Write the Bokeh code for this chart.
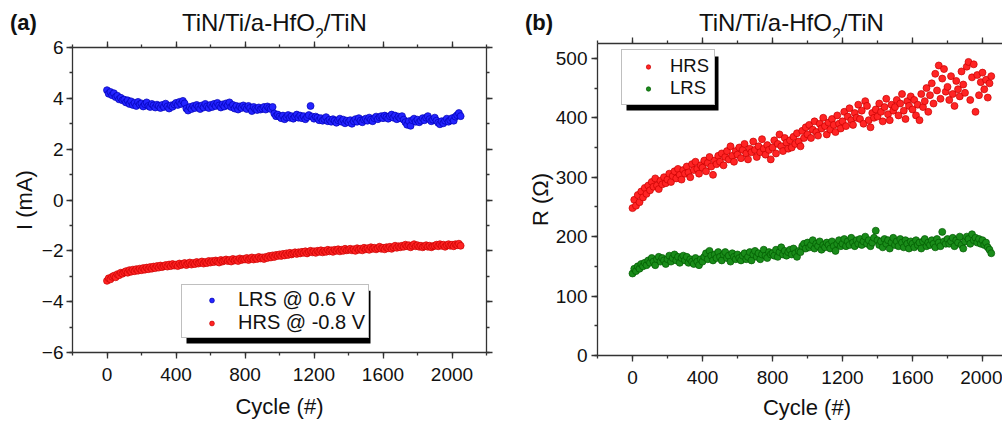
from bokeh.plotting import figure
from bokeh.models import (Legend, LegendItem, LinearAxis, BoxAnnotation, Div,
                          SingleIntervalTicker, Range1d, CustomJSTickFormatter)
from bokeh.layouts import row, column
from bokeh.embed import file_html
from bokeh.resources import INLINE

# ---------------- data ----------------
cycles = list(range(0, 2051, 10))

# panel (a): current in mA
lrs_current = [
    4.32, 4.18, 4.25, 4.12, 4.20, 4.05, 4.10, 3.96, 4.02, 3.92,
    3.95, 3.84, 3.92, 3.78, 3.88, 3.74, 3.82, 3.70, 3.86, 3.76,
    3.80, 3.68, 3.77, 3.84, 3.70, 3.66, 3.78, 3.72, 3.64, 3.75,
    3.70, 3.62, 3.74, 3.66, 3.79, 3.68, 3.60, 3.72, 3.67, 3.76,
    3.82, 3.74, 3.86, 3.78, 3.90, 3.80, 3.60, 3.52, 3.66, 3.58,
    3.70, 3.62, 3.74, 3.66, 3.58, 3.72, 3.64, 3.78, 3.68, 3.62,
    3.74, 3.66, 3.78, 3.70, 3.82, 3.72, 3.64, 3.76, 3.68, 3.80,
    3.72, 3.84, 3.66, 3.74, 3.60, 3.70, 3.56, 3.68, 3.62, 3.72,
    3.64, 3.58, 3.70, 3.62, 3.50, 3.66, 3.58, 3.54, 3.64, 3.56,
    3.60, 3.66, 3.56, 3.68, 3.62, 3.58, 3.66, 3.40, 3.30, 3.36,
    3.28, 3.22, 3.32, 3.18, 3.26, 3.34, 3.24, 3.30, 3.20, 3.28,
    3.36, 3.24, 3.32, 3.22, 3.30, 3.18, 3.26, 3.34, 3.70, 3.28,
    3.20, 3.28, 3.24, 3.14, 3.22, 3.12, 3.18, 3.26, 3.10, 3.16,
    3.08, 3.18, 3.12, 3.04, 3.14, 3.20, 3.08, 3.16, 3.02, 3.12,
    3.06, 3.14, 3.00, 3.10, 3.18, 3.08, 3.22, 3.12, 3.06, 3.16,
    3.20, 3.12, 3.24, 3.16, 3.10, 3.22, 3.28, 3.18, 3.26, 3.30,
    3.22, 3.32, 3.26, 3.20, 3.30, 3.36, 3.24, 3.32, 3.18, 3.28,
    3.22, 3.30, 3.16, 3.06, 2.96, 3.10, 2.92, 3.14, 3.20, 3.08,
    3.16, 3.06, 3.12, 3.22, 3.14, 3.24, 3.30, 3.18, 3.10, 3.16,
    3.24, 3.12, 3.04, 2.98, 3.10, 3.02, 3.12, 3.20, 3.08, 3.14,
    3.22, 3.12, 3.28, 3.34, 3.42, 3.30,
]
hrs_current = [
    -3.18, -3.08, -3.12, -3.02, -2.98, -3.04, -2.92, -2.96, -2.86, -2.90,
    -2.84, -2.80, -2.86, -2.76, -2.82, -2.74, -2.80, -2.72, -2.78, -2.70,
    -2.76, -2.68, -2.74, -2.66, -2.72, -2.64, -2.70, -2.62, -2.68, -2.60,
    -2.66, -2.58, -2.64, -2.60, -2.56, -2.62, -2.54, -2.60, -2.52, -2.58,
    -2.54, -2.60, -2.50, -2.56, -2.52, -2.48, -2.56, -2.50, -2.46, -2.54,
    -2.48, -2.52, -2.44, -2.50, -2.46, -2.42, -2.50, -2.44, -2.48, -2.40,
    -2.46, -2.40, -2.44, -2.38, -2.42, -2.46, -2.36, -2.42, -2.38, -2.34,
    -2.40, -2.36, -2.42, -2.32, -2.38, -2.34, -2.40, -2.30, -2.36, -2.32,
    -2.34, -2.28, -2.36, -2.30, -2.26, -2.34, -2.28, -2.32, -2.24, -2.30,
    -2.26, -2.32, -2.24, -2.28, -2.20, -2.26, -2.18, -2.24, -2.16, -2.20,
    -2.14, -2.20, -2.12, -2.18, -2.10, -2.16, -2.08, -2.14, -2.10, -2.06,
    -2.12, -2.06, -2.10, -2.04, -2.08, -2.02, -2.10, -2.04, -2.00, -2.06,
    -2.02, -2.08, -2.00, -2.04, -1.98, -2.06, -2.00, -2.04, -1.96, -2.02,
    -1.98, -2.04, -1.96, -2.00, -1.94, -2.02, -1.96, -2.00, -1.92, -1.98,
    -1.96, -1.92, -1.98, -1.94, -2.00, -1.90, -1.96, -1.92, -1.98, -1.88,
    -1.94, -1.90, -1.96, -1.86, -1.92, -1.88, -1.94, -1.90, -1.84, -1.92,
    -1.88, -1.94, -1.86, -1.90, -1.84, -1.92, -1.86, -1.80, -1.88, -1.82,
    -1.86, -1.80, -1.84, -1.76, -1.82, -1.78, -1.86, -1.80, -1.74, -1.82,
    -1.78, -1.84, -1.80, -1.86, -1.82, -1.78, -1.84, -1.80, -1.86, -1.82,
    -1.80, -1.76, -1.82, -1.74, -1.80, -1.76, -1.84, -1.78, -1.74, -1.80,
    -1.76, -1.82, -1.74, -1.78, -1.72, -1.80,
]

# panel (b): resistance in ohm
hrs_resistance = [
    248, 262, 252, 270, 258, 276, 266, 282, 272, 286,
    278, 292, 284, 298, 286, 280, 294, 288, 300, 290,
    296, 306, 292, 302, 310, 298, 314, 304, 296, 312,
    306, 318, 308, 300, 322, 312, 326, 314, 306, 320,
    316, 328, 310, 324, 334, 318, 304, 328, 322, 336,
    326, 340, 320, 334, 344, 330, 352, 336, 326, 344,
    338, 350, 332, 346, 356, 340, 330, 348, 342, 360,
    346, 334, 352, 342, 364, 348, 338, 354, 346, 330,
    350, 362, 340, 356, 372, 352, 344, 366, 358, 348,
    362, 350, 368, 356, 374, 360, 352, 378, 366, 384,
    372, 388, 366, 380, 394, 376, 370, 390, 382, 400,
    386, 372, 392, 380, 398, 388, 376, 404, 390, 382,
    394, 410, 386, 402, 416, 396, 388, 408, 400, 422,
    398, 412, 390, 428, 420, 396, 384, 408, 400, 414,
    402, 424, 410, 394, 418, 432, 406, 396, 422, 412,
    418, 430, 404, 424, 440, 412, 398, 428, 420, 436,
    414, 430, 404, 422, 396, 440, 418, 428, 450, 410,
    438, 458, 424, 474, 446, 488, 432, 466, 482, 444,
    452, 430, 470, 440, 420, 462, 448, 436, 478, 456,
    442, 486, 494, 430, 468, 490, 410, 472, 438, 460,
    476, 448, 464, 434, 458, 470,
]
lrs_resistance = [
    138, 146, 142, 150, 146, 154, 150, 156, 152, 160,
    156, 164, 158, 152, 162, 166, 158, 164, 160, 154,
    162, 168, 158, 164, 170, 160, 166, 156, 164, 168,
    160, 166, 156, 162, 158, 154, 164, 158, 152, 162,
    158, 166, 172, 162, 176, 168, 160, 170, 164, 174,
    166, 160, 170, 174, 164, 168, 158, 172, 166, 162,
    170, 164, 160, 168, 172, 162, 166, 174, 160, 170,
    176, 166, 172, 162, 170, 178, 168, 164, 174, 170,
    172, 168, 178, 166, 174, 182, 170, 176, 168, 174,
    178, 170, 180, 172, 166, 176, 174, 184, 188, 180,
    190, 182, 186, 194, 180, 188, 184, 192, 178, 186,
    182, 190, 186, 180, 192, 184, 176, 188, 194, 184,
    188, 196, 184, 192, 186, 198, 190, 184, 194, 188,
    196, 186, 192, 200, 188, 194, 184, 190, 198, 210,
    194, 186, 192, 182, 196, 188, 194, 180, 190, 198,
    186, 192, 184, 196, 190, 182, 194, 188, 180, 192,
    188, 182, 194, 186, 190, 180, 192, 196, 184, 190,
    186, 194, 188, 182, 196, 190, 184, 208, 192, 188,
    196, 188, 192, 198, 184, 194, 190, 200, 186, 180,
    192, 200, 196, 188, 204, 194, 198, 190, 196, 188,
    194, 186, 190, 182, 178, 172,
]

legend_a = ["LRS @ 0.6 V", "HRS @ -0.8 V"]
legend_b = ["HRS", "LRS"]
panel_tags = ["(a)", "(b)"]
title_main = "TiN/Ti/a-HfO"
title_sub = "2"
title_tail = "/TiN"
x_title = "Cycle (#)"

# ---------------- styling ----------------
FONT = "Liberation Sans"
AXC = "#333333"
TXT = "#111111"
BLUE, BLUE_E = "#2424ff", "#0000b4"
RED, RED_E = "#ff2424", "#c80000"
GREEN, GREEN_E = "#1a8c1a", "#005a00"
MS = 7
TOP_H = 37           # height of the title strip
PAGE_H = 421


def style_axis(ax, labels=True):
    ax.axis_line_color = AXC
    ax.axis_line_width = 1.3
    ax.major_tick_line_color = AXC
    ax.minor_tick_line_color = AXC
    ax.major_tick_line_width = 1.3
    ax.minor_tick_line_width = 1.3
    ax.major_tick_in = 0
    ax.major_tick_out = 6
    ax.minor_tick_in = 0
    ax.minor_tick_out = 3
    ax.major_label_text_font = FONT
    ax.major_label_text_font_size = "19px"
    ax.major_label_text_color = TXT
    ax.major_label_standoff = 5
    ax.axis_label_text_font = FONT
    ax.axis_label_text_font_size = "22px"
    ax.axis_label_text_font_style = "normal"
    ax.axis_label_text_color = TXT
    ax.axis_label_standoff = 8
    if not labels:
        ax.formatter = CustomJSTickFormatter(code="return ''")
        ax.major_label_standoff = 0


def px_map(L, R, T, B, x0, x1, y0, y1):
    fx = lambda px: x0 + (px - L) / (R - L) * (x1 - x0)
    fy = lambda py: y1 - (py - T) / (B - T) * (y1 - y0)
    return fx, fy


def span(left, base, size, text, bold=False, extra=""):
    top = base - 0.8465 * size
    weight = "bold" if bold else "normal"
    return (f'<span style="position:absolute;left:{left}px;top:{top:.1f}px;'
            f'font-size:{size}px;font-weight:{weight};white-space:nowrap;{extra}">{text}</span>')


def title_html(left, base):
    inner = (f'{title_main}<span style="font-size:16px;position:relative;top:9px;">'
             f'{title_sub}</span>{title_tail}')
    return span(left, base, 24, inner)


BOX = ("position:relative;width:{w}px;height:{h}px;font-family:'Liberation Sans',Arial,sans-serif;"
       "color:#111111;line-height:1;overflow:visible;margin:0;padding:0;")

top_div = Div(width=1002, height=TOP_H, margin=0,
              text=(f'<div style="{BOX.format(w=1002, h=TOP_H)}">'
                    + span(10, 31, 22, panel_tags[0], bold=True)
                    + title_html(182, 31.5)
                    + span(525, 31, 22, panel_tags[1], bold=True)
                    + title_html(699, 31.7)
                    + '</div>'))

# ---------------- panel (a) ----------------
# page-pixel geometry of the frame
AL, AR, AT, AB = 72, 486, 47, 353
pa = figure(width=508, height=PAGE_H - TOP_H, x_range=Range1d(-200, 2200),
            y_range=Range1d(-6, 6), output_backend="svg", toolbar_location=None, title=None,
            min_border_left=AL, min_border_right=508 - AR,
            min_border_top=AT - TOP_H, min_border_bottom=PAGE_H - AB,
            x_axis_label=x_title, y_axis_label="I (mA)")
pa.grid.visible = False
pa.outline_line_color = None
pa.background_fill_color = "white"
pa.border_fill_color = "white"
pa.xaxis.ticker = SingleIntervalTicker(interval=400, num_minor_ticks=2)
pa.yaxis.ticker = SingleIntervalTicker(interval=2, num_minor_ticks=2)
style_axis(pa.xaxis[0])
style_axis(pa.yaxis[0])
pa.xaxis.major_label_standoff = 9
pa.xaxis.axis_label_standoff = 10
pa.yaxis.major_label_standoff = 3
pa.yaxis.axis_label_standoff = 2
top_a = LinearAxis(ticker=SingleIntervalTicker(interval=400, num_minor_ticks=2))
right_a = LinearAxis(ticker=SingleIntervalTicker(interval=2, num_minor_ticks=2))
style_axis(top_a, labels=False)
style_axis(right_a, labels=False)
pa.add_layout(top_a, "above")
pa.add_layout(right_a, "right")

ra1 = pa.scatter(cycles, lrs_current, marker="circle", size=MS, fill_color=BLUE,
                 line_color=BLUE_E, line_width=0.7)
ra2 = pa.scatter(cycles, hrs_current, marker="circle", size=MS, fill_color=RED,
                 line_color=RED_E, line_width=0.7)

fxa, fya = px_map(AL, AR, AT, AB, -200, 2200, -6, 6)
pa.add_layout(BoxAnnotation(left=fxa(186), right=fxa(370), top=fya(291), bottom=fya(344),
                            fill_color="black", fill_alpha=1, line_color=None))
leg_a = Legend(items=[LegendItem(label=legend_a[0], renderers=[ra1]),
                      LegendItem(label=legend_a[1], renderers=[ra2])],
               location=(181 - AL, AB - 339), margin=0, padding=3, spacing=0,
               glyph_width=53, glyph_height=12, label_standoff=-3,
               label_text_font=FONT, label_text_font_size="20px", label_text_color=TXT,
               border_line_color="#808080", border_line_width=1,
               background_fill_color="white", background_fill_alpha=1)
pa.add_layout(leg_a)

# ---------------- panel (b) ----------------
BOT_H = 26
BL, BR, BT, BB = 597, 1002, 43, 355
BX1 = -200 + (BR - BL) / 0.175
pb = figure(width=494, height=PAGE_H - TOP_H - BOT_H, x_range=Range1d(-200, BX1),
            y_range=Range1d(0, 525), output_backend="svg", toolbar_location=None, title=None,
            min_border_left=BL - 508, min_border_right=0,
            min_border_top=BT - TOP_H, min_border_bottom=PAGE_H - BOT_H - BB,
            y_axis_label="R (\u03a9)")
pb.grid.visible = False
pb.outline_line_color = None
pb.background_fill_color = "white"
pb.border_fill_color = "white"
pb.xaxis.ticker = SingleIntervalTicker(interval=400, num_minor_ticks=2)
pb.yaxis.ticker = SingleIntervalTicker(interval=100, num_minor_ticks=2)
style_axis(pb.xaxis[0])
style_axis(pb.yaxis[0])
pb.xaxis.major_label_standoff = 9
pb.yaxis.major_label_standoff = 4
pb.yaxis.axis_label_standoff = 0
top_b = LinearAxis(ticker=SingleIntervalTicker(interval=400, num_minor_ticks=2))
style_axis(top_b, labels=False)
pb.add_layout(top_b, "above")

rb1 = pb.scatter(cycles, hrs_resistance, marker="circle", size=MS, fill_color=RED,
                 line_color=RED_E, line_width=0.7)
rb2 = pb.scatter(cycles, lrs_resistance, marker="circle", size=MS, fill_color=GREEN,
                 line_color=GREEN_E, line_width=0.7)

fxb, fyb = px_map(BL, BR, BT, BB, -200, BX1, 0, 525)
pb.add_layout(BoxAnnotation(left=fxb(626), right=fxb(718), top=fyb(56), bottom=fyb(110),
                            fill_color="black", fill_alpha=1, line_color=None))
leg_b = Legend(items=[LegendItem(label=legend_b[0], renderers=[rb1]),
                      LegendItem(label=legend_b[1], renderers=[rb2])],
               location=(621 - BL, BB - 105), margin=0, padding=5, spacing=0,
               glyph_width=42, glyph_height=11, label_standoff=1,
               label_text_font=FONT, label_text_font_size="18.5px", label_text_color=TXT,
               border_line_color="#808080", border_line_width=1,
               background_fill_color="white", background_fill_alpha=1)
pb.add_layout(leg_b)

bot_div = Div(width=494, height=BOT_H, margin=0,
              text=(f'<div style="{BOX.format(w=494, h=BOT_H)}">'
                    + span(199, 416 - (PAGE_H - BOT_H), 22, x_title,
                           extra="width:200px;text-align:center;")
                    + '</div>'))

layout = column(top_div, row(pa, column(pb, bot_div)))
open("out.html", "w").write(file_html(layout, INLINE))
